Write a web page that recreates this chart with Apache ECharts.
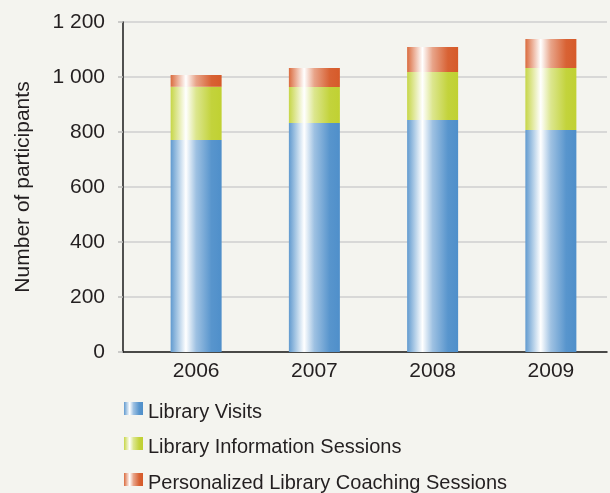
<!DOCTYPE html>
<html><head><meta charset="utf-8">
<script src="https://cdn.jsdelivr.net/npm/echarts@6/dist/echarts.min.js"></script>
<style>html,body{margin:0;padding:0;background:#f4f4ef;}#c{width:610px;height:493px;}</style>
</head><body><div id="c"></div>
<script>
var categories = ['2006', '2007', '2008', '2009'];
var libraryVisits = [771, 833, 844, 807];
var infoSessions = [194, 131, 174, 226];
var coachingSessions = [42, 69, 91, 105];
var yTicks = [0, 200, 400, 600, 800, 1000, 1200];
var seriesNames = ['Library Visits', 'Library Information Sessions', 'Personalized Library Coaching Sessions'];
var baseColors = ['#4f8fca', '#c0d132', '#d65a29'];

function mix(hex, t) {
  var r = parseInt(hex.substr(1,2),16), g = parseInt(hex.substr(3,2),16), b = parseInt(hex.substr(5,2),16);
  r = Math.round(r + (255-r)*t); g = Math.round(g + (255-g)*t); b = Math.round(b + (255-b)*t);
  return 'rgb(' + r + ',' + g + ',' + b + ')';
}
function grad(hex) {
  return new echarts.graphic.LinearGradient(0, 0, 1, 0, [
    {offset: 0, color: mix(hex, 0.1)},
    {offset: 0.15, color: mix(hex, 0.55)},
    {offset: 0.3, color: '#ffffff'},
    {offset: 0.5, color: mix(hex, 0.45)},
    {offset: 0.8, color: mix(hex, 0.05)},
    {offset: 1, color: hex}
  ]);
}
var font = "'Liberation Sans', Arial, Helvetica, sans-serif";
var txt = '#231f20';
var chart = echarts.init(document.getElementById('c'));
var dataSets = [libraryVisits, infoSessions, coachingSessions];
var series = dataSets.map(function (d, i) {
  return {
    name: seriesNames[i], type: 'bar', stack: 'total', data: d,
    xAxisIndex: 1, yAxisIndex: 1, barWidth: 51,
    itemStyle: {color: grad(baseColors[i])},
    emphasis: {disabled: true}
  };
});
var legendTops = [402, 437, 473];
var legends = seriesNames.map(function (n, i) {
  return {
    orient: 'vertical', left: 124, top: legendTops[i], padding: 0,
    itemWidth: 19, itemHeight: 13, itemGap: 4,
    icon: 'rect', selectedMode: false,
    formatter: function (name) { return '{t|' + name + '}'; },
    textStyle: {fontSize: 20, color: txt, fontFamily: font,
      rich: {t: {fontSize: 20, color: txt, fontFamily: font, padding: [7, 0, 0, 0]}}},
    data: [n]
  };
});
chart.setOption({
  backgroundColor: '#f4f4ef',
  animation: false,
  textStyle: {fontFamily: font},
  legend: legends,
  grid: [
    {left: 123, right: 3, top: 22, bottom: 141},
    {left: 137, right: -11, top: 22, bottom: 141}
  ],
  xAxis: [
    {type: 'category', gridIndex: 0, data: categories, boundaryGap: true,
     axisLine: {lineStyle: {color: '#1a1a1a', width: 1.5}},
     axisTick: {length: 5, lineStyle: {color: '#bdbdbd', width: 1.5}},
     axisLabel: {show: false}},
    {type: 'category', gridIndex: 1, data: categories,
     axisLine: {show: false}, axisTick: {show: false},
     axisLabel: {fontSize: 21, color: txt, margin: 9, fontFamily: font}}
  ],
  yAxis: [
    {type: 'value', gridIndex: 0, min: 0, max: 1200, interval: 200,
     name: 'Number of participants', nameLocation: 'middle', nameGap: 89,
     nameTextStyle: {fontSize: 21, color: txt, fontFamily: font},
     axisLine: {show: true, lineStyle: {color: '#1a1a1a', width: 1.5}},
     axisTick: {show: true, length: 5, lineStyle: {color: '#bdbdbd', width: 1.5}},
     splitLine: {show: true, lineStyle: {color: '#cfcfcf', width: 1.5}},
     axisLabel: {fontSize: 21, color: txt, margin: 18, fontFamily: font,
       formatter: function (v) { return yTicks.indexOf(v) >= 0 ? String(v).replace(/\B(?=(\d{3})+(?!\d))/g, ' ') : ''; }}},
    {type: 'value', gridIndex: 1, min: 0, max: 1200, show: false, splitLine: {show: false}}
  ],
  series: series
});
</script></body></html>
